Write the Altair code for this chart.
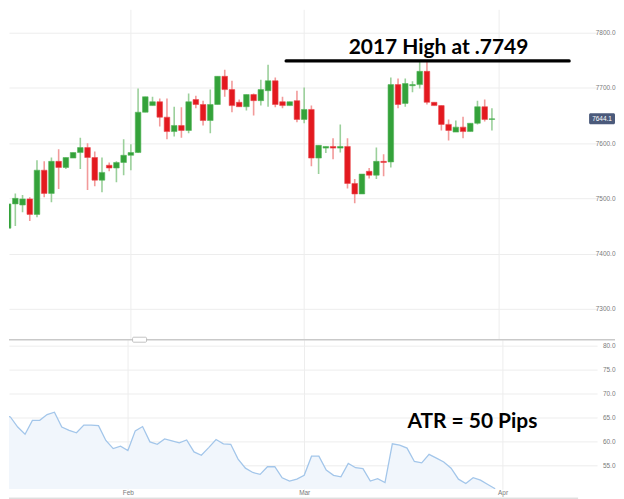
import altair as alt
import pandas as pd

# ---------------- data ----------------
opens  = [7446, 7490, 7488, 7499, 7471, 7551, 7509, 7567, 7556, 7573,
          7583, 7592, 7574, 7533, 7560, 7555, 7565, 7578, 7583, 7656,
          7668, 7675, 7647, 7621, 7632, 7623, 7679, 7670, 7641, 7670,
          7721, 7697, 7674, 7666, 7688, 7677, 7695, 7713, 7675, 7668,
          7677, 7643, 7661, 7573, 7591, 7594, 7591, 7594, 7527, 7508,
          7549, 7542, 7567, 7566, 7706, 7672, 7704, 7706, 7730, 7674,
          7668, 7634, 7620, 7629, 7621, 7636, 7666, 7643]
highs  = [7518, 7509, 7506, 7502, 7569, 7567, 7574, 7589, 7574, 7583,
          7610, 7600, 7585, 7574, 7565, 7567, 7607, 7598, 7699, 7684,
          7684, 7681, 7681, 7666, 7665, 7690, 7686, 7677, 7697, 7721,
          7733, 7713, 7679, 7688, 7690, 7715, 7742, 7719, 7684, 7675,
          7695, 7701, 7668, 7596, 7594, 7609, 7634, 7609, 7535, 7544,
          7555, 7592, 7580, 7719, 7717, 7717, 7712, 7749, 7749, 7674,
          7668, 7643, 7641, 7648, 7636, 7677, 7679, 7663]
lows   = [7432, 7450, 7475, 7459, 7466, 7502, 7493, 7517, 7553, 7573,
          7553, 7515, 7522, 7511, 7549, 7529, 7542, 7551, 7582, 7656,
          7668, 7630, 7607, 7612, 7610, 7618, 7663, 7632, 7618, 7670,
          7684, 7656, 7666, 7659, 7650, 7668, 7666, 7665, 7663, 7668,
          7638, 7636, 7558, 7544, 7582, 7571, 7583, 7518, 7491, 7508,
          7536, 7535, 7540, 7556, 7663, 7666, 7692, 7699, 7670, 7668,
          7623, 7605, 7620, 7609, 7621, 7634, 7639, 7623]
closes = [7490, 7500, 7499, 7471, 7551, 7509, 7567, 7556, 7574, 7583,
          7592, 7574, 7533, 7547, 7555, 7565, 7578, 7583, 7656, 7684,
          7675, 7647, 7621, 7632, 7623, 7675, 7670, 7641, 7670, 7721,
          7697, 7668, 7666, 7688, 7677, 7697, 7713, 7670, 7668, 7675,
          7643, 7661, 7573, 7596, 7594, 7591, 7594, 7527, 7508, 7544,
          7542, 7567, 7565, 7706, 7670, 7708, 7706, 7730, 7674, 7668,
          7634, 7623, 7629, 7621, 7636, 7666, 7643, 7644.1]
atr = [65.6, 65.1, 63.0, 61.5, 64.4, 64.4, 65.6, 66.1, 63.0, 62.3,
       61.8, 63.4, 63.4, 63.3, 60.2, 58.5, 59.0, 58.1, 62.2, 63.1,
       59.9, 59.4, 60.5, 60.1, 59.7, 60.3, 57.8, 57.1, 58.7, 60.4,
       59.5, 59.4, 56.3, 54.4, 53.5, 53.1, 54.7, 54.7, 52.4, 51.7,
       52.1, 52.9, 56.9, 56.9, 54.0, 52.9, 52.6, 55.4, 54.5, 54.3,
       51.7, 52.2, 51.4, 59.5, 59.2, 58.6, 55.8, 55.5, 57.3, 56.5,
       55.7, 54.4, 52.1, 51.2, 52.4, 51.9, 51.0, 50.1]

month_labels = ["Feb", "Mar", "Apr"]
month_pos = [17, 41, 68]
price_ticks = [7300, 7400, 7500, 7600, 7700, 7800]
atr_ticks = [55, 60, 65, 70, 75, 80]

high_level = 7749
high_line_from, high_line_to = 38.5, 77.7
high_text = "2017 High at .7749"
high_text_at = (59.6, 7762)
atr_text = "ATR = 50 Pips"
atr_text_at = (63.9, 62.9)

# ---------------- frames ----------------
n = len(opens)
candles = pd.DataFrame({
    "k": list(range(n)), "open": opens, "high": highs,
    "low": lows, "close": closes,
})
candles["dir"] = ["up" if c >= o else "down" for o, c in zip(opens, closes)]
atr_df = pd.DataFrame({"k": list(range(n)), "atr": atr})
months_df = pd.DataFrame({"k": month_pos, "m": month_labels})

X_DOM = [0.814, 80.87]
P_DOM = [7244, 7841.5]
A_DOM = [50, 81.25]
W = 590
H_TOP = 331
H_BOT = 150

GREEN, RED = "#34a23a", "#e3191f"
WICK_G, WICK_R = "#9bd09b", "#f29a9a"
GRID = "#ededed"
LBL = "#7a7a7a"

xscale = alt.Scale(domain=X_DOM, nice=False, zero=False)

label_expr = " : ".join(
    f"datum.value == {p} ? '{l}'" for p, l in zip(month_pos[:-1], month_labels[:-1])
) + f" : '{month_labels[-1]}'"

y_price_axis = alt.Axis(orient="right", values=price_ticks, format=".1f", domain=False,
                        ticks=False, tickSize=0, labelPadding=18, labelAlign="right",
                        labelBaseline="middle", labelOverlap=False, grid=True,
                        gridColor=GRID, title=None)
p_scale = alt.Scale(domain=P_DOM, nice=False, zero=False)

# vertical month grid lines of the price panel
vgrid = alt.Chart(months_df).mark_rule(color=GRID, strokeWidth=1).encode(
    x=alt.X("k:Q", scale=xscale, axis=None),
    y=alt.value(0), y2=alt.value(H_TOP))

base_top = alt.Chart(candles)

wicks = base_top.mark_rule(strokeWidth=1.6, clip=True).encode(
    x=alt.X("k:Q", scale=xscale, axis=None),
    y=alt.Y("low:Q", scale=p_scale, axis=y_price_axis),
    y2="high:Q",
    color=alt.Color("dir:N", scale=alt.Scale(domain=["up", "down"], range=[WICK_G, WICK_R]),
                    legend=None),
)

bodies = base_top.mark_bar(size=5.6, clip=True, strokeWidth=0.6).encode(
    x=alt.X("k:Q", scale=xscale, axis=None),
    y=alt.Y("open:Q", scale=p_scale, axis=y_price_axis),
    y2="close:Q",
    fill=alt.Fill("dir:N", scale=alt.Scale(domain=["up", "down"], range=[GREEN, RED]),
                  legend=None),
    stroke=alt.Stroke("dir:N", scale=alt.Scale(domain=["up", "down"], range=["#55b55a", "#ea4a4f"]),
                      legend=None),
)

hl = pd.DataFrame({"x0": [high_line_from], "x1": [high_line_to], "y": [high_level]})
high_line = alt.Chart(hl).mark_rule(color="black", strokeWidth=3.2, strokeCap="round").encode(
    x=alt.X("x0:Q", scale=xscale, axis=None), x2="x1:Q",
    y=alt.Y("y:Q", scale=p_scale, axis=y_price_axis))

ht = pd.DataFrame({"x": [high_text_at[0]], "y": [high_text_at[1]], "t": [high_text]})
high_label = alt.Chart(ht).mark_text(font="Lato", fontWeight="bold", fontSize=21,
                                     color="black", align="center",
                                     baseline="alphabetic").encode(
    x=alt.X("x:Q", scale=xscale, axis=None),
    y=alt.Y("y:Q", scale=p_scale, axis=y_price_axis), text="t:N")

last = pd.DataFrame({"p": [closes[-1]]})
price_box = alt.Chart(last).transform_calculate(
    hi="datum.p + 10", lo="datum.p - 10"
).mark_rect(color="#4b5a7b", cornerRadius=1.5).encode(
    x=alt.value(582), x2=alt.value(608),
    y=alt.Y("hi:Q", scale=p_scale, axis=y_price_axis), y2="lo:Q")
price_txt = alt.Chart(last).mark_text(color="white", fontSize=6.5, font="Liberation Sans",
                                      align="center", baseline="middle").encode(
    x=alt.value(595), y=alt.Y("p:Q", scale=p_scale, axis=y_price_axis),
    text=alt.Text("p:Q", format=".1f"))

top = alt.layer(vgrid, wicks, bodies, high_line, high_label, price_box, price_txt).properties(
    width=W, height=H_TOP)

# ---------------- lower panel ----------------
x_bot_axis = alt.Axis(values=month_pos, labelExpr=label_expr, ticks=False, domain=False,
                      grid=True, gridColor=GRID, labelPadding=0, labelFlush=False,
                      labelFontSize=6.5)
y_atr_axis = alt.Axis(orient="right", values=atr_ticks, format=".1f", domain=False,
                      ticks=False, tickSize=0, labelPadding=18, labelAlign="right",
                      labelBaseline="middle", labelOverlap=False, grid=True,
                      gridColor=GRID, title=None)
y_atr_scale = alt.Scale(domain=A_DOM, nice=False, zero=False)

area = alt.Chart(atr_df).mark_area(color="#f1f6fc", clip=True).encode(
    x=alt.X("k:Q", scale=xscale, title=None, axis=x_bot_axis),
    y=alt.Y("atr:Q", scale=y_atr_scale, axis=y_atr_axis),
    y2=alt.datum(A_DOM[0]),
)
line = alt.Chart(atr_df).mark_line(color="#a3c6ea", strokeWidth=1.3, clip=True).encode(
    x=alt.X("k:Q", scale=xscale, title=None, axis=x_bot_axis),
    y=alt.Y("atr:Q", scale=y_atr_scale, axis=y_atr_axis),
)

at = pd.DataFrame({"k": [atr_text_at[0]], "atr": [atr_text_at[1]], "t": [atr_text]})
atr_label = alt.Chart(at).mark_text(font="Lato", fontWeight="bold", fontSize=21,
                                    color="black", align="center",
                                    baseline="alphabetic").encode(
    x=alt.X("k:Q", scale=xscale, title=None, axis=x_bot_axis),
    y=alt.Y("atr:Q", scale=y_atr_scale, axis=y_atr_axis),
    text="t:N")

divider = alt.Chart(at).mark_rule(color="#c9c9c9", strokeWidth=1.5).encode(
    x=alt.value(0), x2=alt.value(608), y=alt.value(0))
bottom_rule = alt.Chart(at).mark_rule(color="#d0d0d0", strokeWidth=1).encode(
    x=alt.value(0), x2=alt.value(571), y=alt.value(159))
handle = alt.Chart(at).mark_rect(fill="white", stroke="#b5b5b5", strokeWidth=0.8,
                                 cornerRadius=1).encode(
    x=alt.value(124), x2=alt.value(138), y=alt.value(-2.5), y2=alt.value(2.5))

bottom = alt.layer(area, line, atr_label, divider, bottom_rule, handle).properties(
    width=W, height=H_BOT)

chart = alt.vconcat(top, bottom, spacing=0, bounds="flush").properties(
    padding=0, background="white"
).configure_view(stroke=None).configure_axis(
    labelFont="Liberation Sans", labelFontSize=6.5, labelColor=LBL
).configure_axisY(labelOverlap=False)

chart.save("out.html", embed_options={"renderer": "svg", "actions": False})
